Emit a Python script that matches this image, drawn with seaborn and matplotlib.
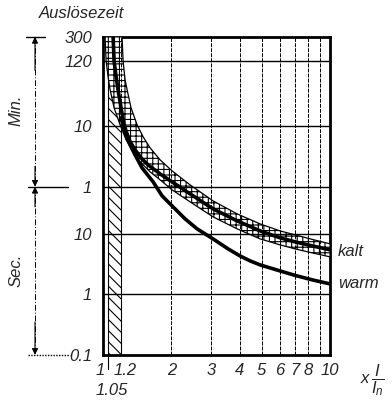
import numpy as np
import pandas as pd
import matplotlib
matplotlib.use("Agg")
import matplotlib.pyplot as plt
import matplotlib.transforms as mtransforms
import seaborn as sns

# Auslösekennlinie (Zeit in Sekunden, Strom als Vielfaches von In)
kalt_x = [1.107, 1.118, 1.141, 1.164, 1.200, 1.237, 1.302, 1.383, 1.470, 1.579,
          1.783, 2.013, 2.417, 3.05, 3.894, 4.92, 6.02, 7.01, 8.33, 10]
kalt_t = [18000, 7200, 3936, 2399, 1210, 634, 358, 244, 180, 138,
          98, 72.4, 45.8, 25.9, 16.4, 11.2, 8.6, 7.38, 6.34, 5.45]

# Streuband "kalt" - obere und untere Grenze
kalt_hi_x = [1.212, 1.225, 1.250, 1.276, 1.328, 1.412, 1.501, 1.611, 1.783,
             2.013, 2.417, 3.05, 3.894, 4.92, 6.02, 7.01, 8.33, 10]
kalt_hi_t = [18000, 7200, 3509, 2399, 1210, 634, 401, 264, 167,
             110, 64.5, 35.1, 21.4, 14.6, 11.2, 9.63, 8.11, 6.84]
kalt_lo_x = [1.020, 1.031, 1.052, 1.074, 1.118, 1.188, 1.263, 1.356, 1.455, 1.611,
             1.783, 2.013, 2.417, 3.05, 3.894, 4.92, 6.02, 7.01, 8.33, 10]
kalt_lo_t = [18000, 7200, 3936, 2399, 1210, 634, 358, 226, 155, 106,
             78.1, 53.4, 33.8, 19.1, 12.1, 8.26, 6.58, 5.65, 4.85, 4.17]

# Kennlinie "warm"
warm_x = [1.200, 1.225, 1.250, 1.315, 1.383, 1.485, 1.661, 1.819, 2.013, 2.297,
          2.595, 3.05, 3.553, 4.01, 4.442, 4.92, 6.02, 7.01, 8.33, 10]
warm_t = [826, 609, 467, 296, 202, 123, 72.4, 42.5, 29.0, 17.7,
          12.1, 8.26, 5.65, 4.32, 3.58, 3.07, 2.44, 2.06, 1.74, 1.49]

# Achsen
x_ticks = [1, 1.2, 2, 3, 4, 5, 6, 7, 8, 10]
x_labels = ["1", "1.2", "2", "3", "4", "5", "6", "7", "8", "10"]
x_grid = [1.2, 2, 3, 4, 5, 6, 7, 8, 9]
y_ticks = [0.1, 1, 10, 60, 600, 7200, 18000]
y_labels = ["0.1", "1", "10", "1", "10", "120", "300"]
y_grid = [1, 10, 60, 600, 7200]

sns.set_style("white")
plt.rcParams["font.family"] = ["Liberation Sans", "DejaVu Sans"]
plt.rcParams["font.style"] = "italic"
plt.rcParams["mathtext.fontset"] = "custom"
plt.rcParams["mathtext.it"] = "Liberation Sans:italic"
plt.rcParams["mathtext.rm"] = "Liberation Sans:italic"
plt.rcParams["hatch.linewidth"] = 0.8

fig = plt.figure(figsize=(3.92, 4.01), dpi=100)
ax = fig.add_axes([0.263, 0.115, 0.579, 0.793])
ax.set_xscale("log")
ax.set_yscale("log")
ax.set_xlim(1, 10)
ax.set_ylim(0.1, 18000)

# schraffierter Bereich 1.05 .. 1.2
ax.axvspan(1.05, 1.2, facecolor="none", edgecolor="black", hatch="\\\\\\",
           lw=0.8, zorder=2)
ax.plot([1.05, 1.05], [0.1, 0.1 / 1.7], color="black", lw=0.8, clip_on=False)

# Streuband kalt
band_x = kalt_hi_x + kalt_lo_x[::-1]
band_t = kalt_hi_t + kalt_lo_t[::-1]
ax.fill(band_x, band_t, facecolor="white", edgecolor="black", hatch="+++",
        lw=0.9, zorder=3)

# Gitter
for gx in x_grid:
    ax.axvline(gx, color="black", lw=0.7, ls=(0, (4, 1.2)), zorder=3.5)
for gy in y_grid:
    ax.axhline(gy, color="black", lw=1.0, zorder=3.5)

sns.lineplot(x=kalt_x, y=kalt_t, ax=ax, color="black", lw=2.6,
             estimator=None, sort=False, zorder=4)
sns.lineplot(x=warm_x, y=warm_t, ax=ax, color="black", lw=2.6,
             estimator=None, sort=False, zorder=4)

ax.set_xticks(x_ticks)
ax.set_xticklabels(x_labels)
ax.set_yticks(y_ticks)
ax.set_yticklabels(y_labels)
ax.minorticks_off()
ax.tick_params(length=0, labelsize=12, pad=8)
ax.tick_params(axis="x", pad=6)
for sp in ax.spines.values():
    sp.set_linewidth(2)
    sp.set_color("black")

for lab in ax.get_xticklabels():
    if lab.get_text() == "1":
        lab.set_ha("right")
        lab.set_transform(lab.get_transform() +
                          mtransforms.ScaledTranslation(0.02, 0, fig.dpi_scale_trans))
    elif lab.get_text() == "1.2":
        lab.set_transform(lab.get_transform() +
                          mtransforms.ScaledTranslation(0.04, 0, fig.dpi_scale_trans))

ax.text(1.05, 0.1 / 2.9, "1.05", ha="center", va="top", fontsize=12,
        transform=ax.transData + mtransforms.ScaledTranslation(0.04, 0, fig.dpi_scale_trans))

# Beschriftungen rechts
tr = mtransforms.blended_transform_factory(ax.transAxes, ax.transData)
ax.text(1.035, 5.2, "kalt", transform=tr, ha="left", va="center", fontsize=12)
ax.text(1.035, 1.49, "warm", transform=tr, ha="left", va="center", fontsize=12)
fig.text(372 / 392, 1 - 380 / 401, r"$x\,\dfrac{I}{I_n}$", ha="center",
         va="center", fontsize=12)

fig.text(82 / 392, 1 - 13 / 401, "Auslösezeit", ha="center", va="center",
         fontsize=12)

# Bemaßung Min. / Sec.
xd = -0.30
ax.plot([xd, xd], [18000, 0.1], transform=tr, color="black", lw=0.7,
        ls=(0, (6, 2, 1, 2)), clip_on=False)
ax.plot([-0.34, -0.255], [18000, 18000], transform=tr, color="black", lw=1,
        clip_on=False)
ax.plot([-0.33, -0.155], [60, 60], transform=tr, color="black", lw=1,
        clip_on=False)
ax.plot([-0.33, -0.145], [0.1, 0.1], transform=tr, color="black", lw=1,
        ls=(0, (1, 1)), clip_on=False)
arrow = dict(arrowstyle="-|>", color="black", lw=0.8, mutation_scale=9,
             shrinkA=0, shrinkB=0)
for tip, tail in [(18000, 5000), (60, 28), (60, 130), (0.1, 0.35)]:
    ax.annotate("", xy=(xd, tip), xytext=(xd, tail), xycoords=tr,
                textcoords=tr, arrowprops=arrow, annotation_clip=False)
ax.text(-0.385, 1100, "Min.", transform=tr, rotation=90, ha="center",
        va="center", fontsize=12)
ax.text(-0.385, 2.5, "Sec.", transform=tr, rotation=90, ha="center",
        va="center", fontsize=12)

fig.savefig("out.png", dpi=100)
